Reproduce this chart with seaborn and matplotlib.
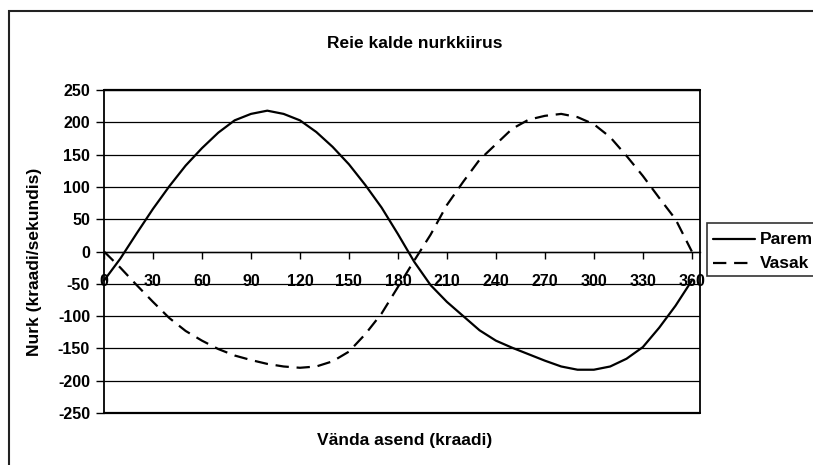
import matplotlib
matplotlib.use("Agg")
import matplotlib.pyplot as plt
from matplotlib.patches import Rectangle
import numpy as np
import pandas as pd
import seaborn as sns

# Crank angle (degrees) and thigh tilt angular velocity (degrees/second)
angle = [0, 10, 20, 30, 40, 50, 60, 70, 80, 90, 100, 110, 120, 130, 140, 150,
         160, 170, 180, 190, 200, 210, 220, 230, 240, 250, 260, 270, 280, 290,
         300, 310, 320, 330, 340, 350, 360]
parem = [-45, -11, 28, 66, 101, 133, 160, 184, 203, 213, 218, 213, 203, 185,
         162, 135, 103, 68, 27, -16, -52, -78, -100, -122, -138, -149, -159,
         -169, -178, -183, -183, -178, -166, -148, -118, -84, -45]
vasak = [0, -25, -52, -78, -103, -123, -138, -151, -161, -168, -174, -178,
         -180, -178, -170, -155, -128, -96, -55, -14, 26, 72, 108, 142, 166,
         190, 204, 210, 213, 208, 197, 177, 148, 117, 83, 50, 0]
series_names = ["Parem", "Vasak"]
x_ticks = list(range(0, 361, 30))
y_ticks = list(range(-250, 251, 50))

df = pd.concat([
    pd.DataFrame({"angle": angle, "value": parem, "side": series_names[0]}),
    pd.DataFrame({"angle": angle, "value": vasak, "side": series_names[1]}),
])

sns.set_theme(style="white")
plt.rcParams["font.family"] = ["Liberation Sans", "DejaVu Sans"]
plt.rcParams["font.weight"] = "bold"

W, H = 813, 465
fig = plt.figure(figsize=(W / 100, H / 100), dpi=100)
fig.patch.set_facecolor("white")

# outer chart frame
fig.add_artist(Rectangle((9 / W, -0.1), 2.0, (H - 11) / H + 0.1, fill=False,
                         edgecolor="#222222", lw=1.5, transform=fig.transFigure))

left, right, top, bottom = 104, 700, 90, 413
ax = fig.add_axes([left / W, (H - bottom) / H, (right - left) / W, (bottom - top) / H])
ax.set_facecolor("white")

# horizontal gridlines
for v in y_ticks:
    ax.axhline(v, color="black", lw=0.9, zorder=1)
ax.axhline(-250, color="black", lw=1.6, zorder=1, clip_on=False)
ax.axhline(250, color="black", lw=1.6, zorder=1, clip_on=False)

sns.lineplot(data=df, x="angle", y="value", style="side", color="black",
             dashes={"Parem": "", "Vasak": (6, 3.5)}, lw=1.6, ax=ax,
             legend=False, zorder=3, clip_on=False)

ax.set_xlim(0, 365)
ax.set_ylim(-250, 250)

for s in ["top", "right"]:
    ax.spines[s].set_visible(True)
    ax.spines[s].set_color("black")
    ax.spines[s].set_linewidth(1.3)
ax.spines["left"].set_color("black")
ax.spines["left"].set_linewidth(1.3)
ax.spines["bottom"].set_position(("data", 0))
ax.spines["bottom"].set_color("black")
ax.spines["bottom"].set_linewidth(1.0)

ax.set_xticks(x_ticks)
ax.set_xticklabels([str(t) for t in x_ticks])
ax.set_yticks(y_ticks)
ax.set_yticklabels([str(t) for t in y_ticks])
ax.tick_params(axis="x", direction="out", length=5, width=1, color="black",
               pad=11, labelsize=11.5, labelcolor="black", bottom=True)
ax.tick_params(axis="y", direction="out", length=6, width=1, color="black",
               pad=4, labelsize=11.5, labelcolor="black", left=True)
for lab in ax.get_xticklabels() + ax.get_yticklabels():
    lab.set_fontweight("bold")
    lab.set_zorder(5)

ax.set_xlabel("")
ax.set_ylabel("")

fig.text(415 / W, 1 - 44 / H, "Reie kalde nurkkiirus", ha="center", va="center",
         fontsize=12.5, fontweight="bold", color="black")
fig.text(405 / W, 1 - 440 / H, "Vända asend (kraadi)", ha="center", va="center",
         fontsize=12.5, fontweight="bold", color="black")
fig.text(35 / W, 1 - 262 / H, "Nurk (kraadi/sekundis)", ha="center", va="center",
         rotation=90, fontsize=12.5, fontweight="bold", color="black")

# legend box
fig.add_artist(Rectangle((707 / W, 1 - 276 / H), 1.0, 53 / H, facecolor="white",
                         edgecolor="#333333", lw=1.2, transform=fig.transFigure,
                         zorder=4))
for i, (name, dash) in enumerate([("Parem", "-"), ("Vasak", (0, (6, 3.5)))]):
    yy = 1 - (239 + 24 * i) / H
    fig.add_artist(plt.Line2D([713 / W, 755 / W], [yy, yy], color="black",
                              lw=1.6, linestyle=dash, transform=fig.transFigure,
                              zorder=5))
    fig.text(760 / W, yy, name, ha="left", va="center", fontsize=12.5,
             fontweight="bold", color="black", zorder=6)

fig.savefig("out.png", dpi=100, facecolor="white")
